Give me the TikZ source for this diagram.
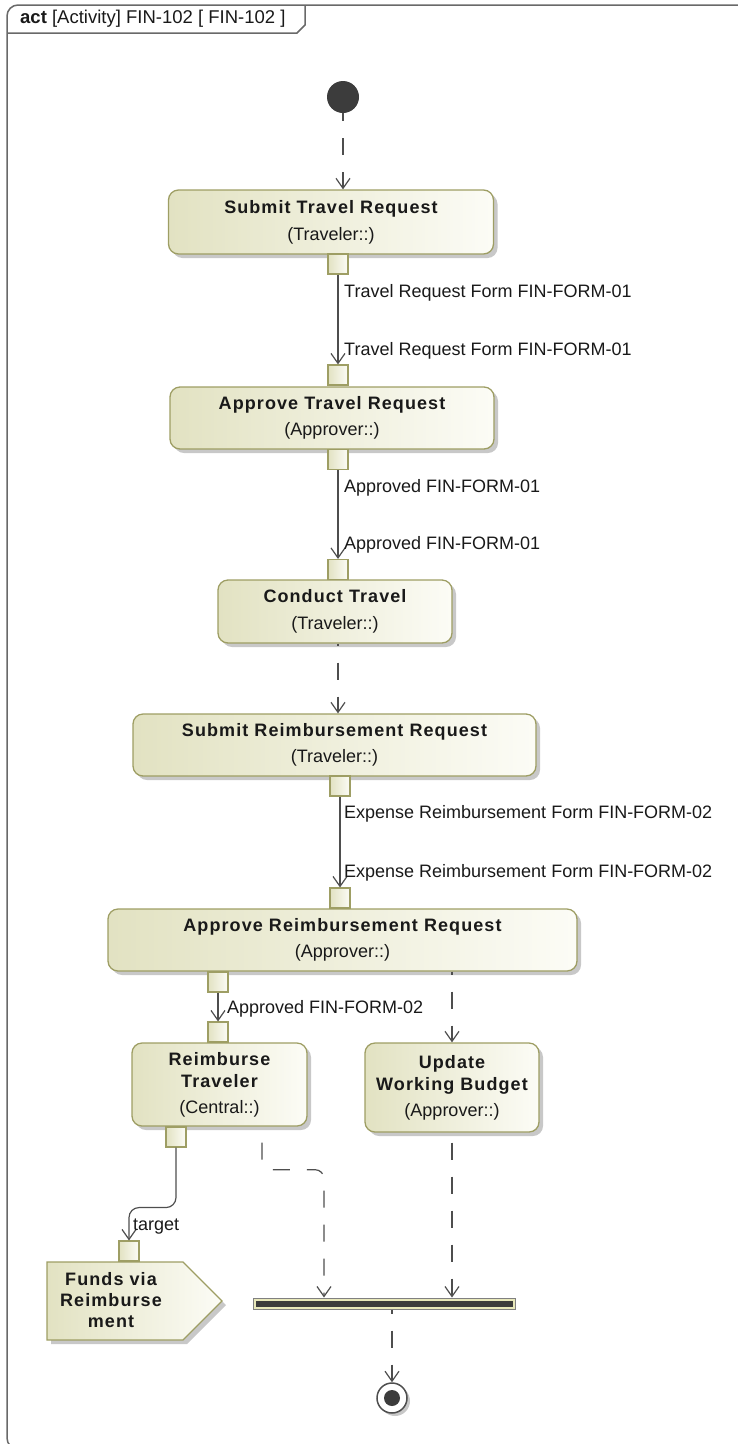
\documentclass[tikz,border=0pt]{standalone}
\usepackage{fontspec}
\setmainfont{Liberation Sans}
\newfontfamily\boldsp{Liberation Sans}[LetterSpace=6]
\newcommand\nm[1]{{\boldsp\bfseries #1}}
\usetikzlibrary{arrows.meta,shadows,calc}
\definecolor{olivebd}{RGB}{158,158,100}
\definecolor{fillL}{RGB}{226,226,194}
\definecolor{fillR}{RGB}{252,252,246}
\definecolor{edgegray}{RGB}{78,78,78}
\definecolor{framegray}{RGB}{105,105,105}
\definecolor{txt}{RGB}{25,25,25}
\definecolor{dotfill}{RGB}{60,60,60}
\definecolor{barband}{RGB}{232,232,186}
\definecolor{shadowgray}{RGB}{200,200,200}
\tikzset{
  action/.style={rectangle, rounded corners=10pt, draw=olivebd, line width=1.3pt,
    left color=fillL, right color=fillR, align=center, inner sep=0pt, text=txt,
    drop shadow={shadow xshift=4pt, shadow yshift=-4pt, fill=shadowgray, opacity=1}},
  pinbox/.style={rectangle, draw=olivebd, line width=1.1pt, left color=fillL,
    right color=fillR, minimum size=20pt, inner sep=0pt},
  flow/.style={draw=edgegray, line width=1.2pt,
    -{Straight Barb[length=10pt,width=14pt,line width=1.2pt]}},
  ctrl/.style={flow, dash pattern=on 17pt off 17pt},
  lbl/.style={anchor=west, inner sep=0pt, text=txt},
}
\begin{document}
\begin{tikzpicture}[x=1pt,y=-1pt,font=\fontsize{18}{22}\selectfont]
\useasboundingbox (0,0) rectangle (738,1444);
\clip (0,0) rectangle (738,1444);
% frame
\draw[framegray, line width=1.5pt, rounded corners=11pt] (760,5) -- (7,5) -- (7,1449) -- (760,1449);
\draw[framegray, line width=1.5pt] (7,33) -- (297,33) -- (305,25) -- (305,5);
\node[lbl, font=\fontsize{18.5}{22}\selectfont] (title) at (20,19) {\textbf{act} [Activity] FIN-102 [ FIN-102 ]};

% initial node
\node[circle, fill=dotfill, minimum size=32pt, inner sep=0pt] (init) at (343,97) {};

% actions
\node[action, minimum width=325pt, minimum height=64pt] (str) at (331,222)
  {\nm{Submit Travel Request}\\[5pt](Traveler::)};
\node[action, minimum width=324pt, minimum height=62pt] (atr) at (332,418)
  {\nm{Approve Travel Request}\\[4pt](Approver::)};
\node[action, minimum width=234pt, minimum height=63pt] (ct) at (335,611.5)
  {\nm{Conduct Travel}\\[5pt](Traveler::)};
\node[action, minimum width=403pt, minimum height=62pt] (srr) at (334.5,745)
  {\nm{Submit Reimbursement Request}\\[4pt](Traveler::)};
\node[action, minimum width=469pt, minimum height=62pt] (arr) at (342.5,940)
  {\nm{Approve Reimbursement Request}\\[4pt](Approver::)};
\node[action, minimum width=175pt, minimum height=83pt] (rt) at (219.5,1084.5)
  {\nm{Reimburse}\\\nm{Traveler}\\[4pt](Central::)};
\node[action, minimum width=174pt, minimum height=89pt] (uwb) at (452,1087.5)
  {\nm{Update}\\\nm{Working Budget}\\[4pt](Approver::)};

% pins
\node[pinbox] (p1) at (338,264) {};
\node[pinbox] (p2) at (338,375) {};
\node[pinbox] (p3) at (338,459.5) {};
\node[pinbox] (p4) at (338,569.5) {};
\node[pinbox] (p5) at (340,786) {};
\node[pinbox] (p6) at (340,898) {};
\node[pinbox] (p7) at (218,982) {};
\node[pinbox] (p8) at (218,1032) {};
\node[pinbox] (p9) at (176,1137) {};

% send signal
\path[fill=shadowgray] (51,1266) -- (187,1266) -- (226,1305) -- (187,1344) -- (51,1344) -- cycle;
\draw[draw=olivebd, line width=1.3pt, left color=fillL, right color=fillR]
  (47,1262) -- (183,1262) -- (222,1301) -- (183,1340) -- (47,1340) -- cycle;
\node[align=center, text=txt, font=\fontsize{18}{21}\selectfont] (funds) at (111,1300)
  {\nm{Funds via}\\\nm{Reimburse}\\\nm{ment}};
\node[pinbox] (p10) at (129,1251) {};

% fork/join bar
\node[rectangle, draw=gray, line width=1pt, fill=barband, minimum width=262pt, minimum height=11pt, inner sep=0pt] (bar) at (384,1303.5) {};
\fill[dotfill] ([shift={(3,3)}]bar.north west) rectangle ([shift={(-3,-3)}]bar.south east);

% final node
\fill[shadowgray] (395,1401) circle (15);
\node[circle, draw=edgegray, line width=1.5pt, fill=white, minimum size=30pt, inner sep=0pt] (final) at (392,1398) {};
\fill[dotfill] (final.center) circle (8);

% object flows
\draw[flow] (p1.south) -- (p2.north);
\draw[flow] (p3.south) -- (p4.north);
\draw[flow] (p5.south) -- (p6.north);
\draw[flow] (p7.south) -- (p8.north);
\draw[flow, rounded corners=10pt] (p9.south) -- ++(0,60) -| (p10.north);

% control flows
\draw[ctrl, dash phase=9pt] (init.south) -- (init.south |- str.north);
\draw[ctrl, dash phase=15pt] (ct.south -| p4.south) -- (p4.south |- srr.north);
\draw[ctrl, dash phase=14pt] (arr.south -| uwb.north) -- (uwb.north);
\coordinate (rtout) at ([xshift=42.5pt]rt.south);
\coordinate (bin1) at ([xshift=-60pt]bar.north);
\coordinate (bin2) at (uwb.south |- bar.north);
\coordinate (bout) at (final.north |- bar.south);
\draw[ctrl, dash phase=18pt, rounded corners=9pt] (rtout) -- ++(0,43) -| (bin1);
\draw[ctrl, dash phase=24pt] (uwb.south) -- (bin2);
\draw[ctrl, dash phase=13pt] (bout) -- (final.north);

% labels
\node[lbl] (l1) at (344,293) {Travel Request Form FIN-FORM-01};
\node[lbl] (l2) at (344,351) {Travel Request Form FIN-FORM-01};
\node[lbl] (l3) at (344,488) {Approved FIN-FORM-01};
\node[lbl] (l4) at (344,545) {Approved FIN-FORM-01};
\node[lbl] (l5) at (344,814) {Expense Reimbursement Form FIN-FORM-02};
\node[lbl] (l6) at (344,873) {Expense Reimbursement Form FIN-FORM-02};
\node[lbl] (l7) at (227,1009) {Approved FIN-FORM-02};
\node[lbl] (l8) at (133,1227) {target};
\end{tikzpicture}
\end{document}
